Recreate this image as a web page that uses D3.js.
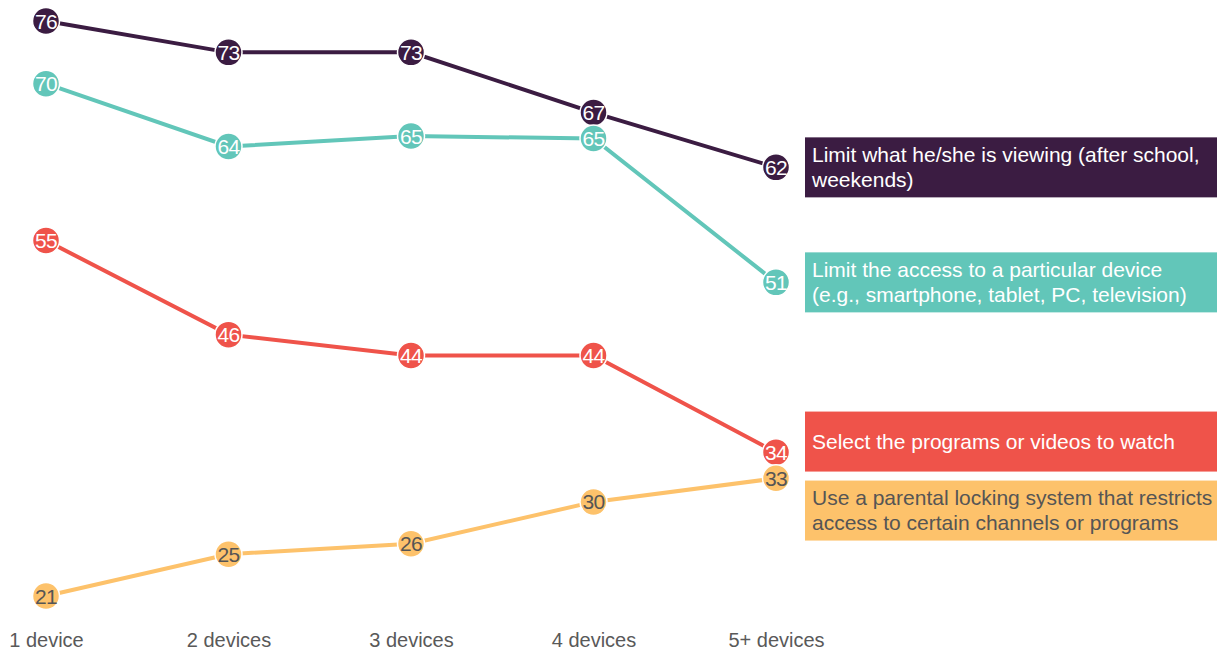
<!DOCTYPE html>
<html>
<head>
<meta charset="utf-8">
<script src="https://cdn.jsdelivr.net/npm/d3@7"></script>
<style>
  html, body { margin: 0; padding: 0; background: #ffffff; }
  svg { display: block; font-family: "Liberation Sans", Arial, sans-serif; }
</style>
</head>
<body>
<svg id="chart" width="1224" height="653"></svg>
<script>
// ---- data ----
const categories = ["1 device", "2 devices", "3 devices", "4 devices", "5+ devices"];
const limitViewing   = [76, 73, 73, 67, 62];
const limitAccess    = [70, 64, 65, 65, 51];
const selectPrograms = [55, 46, 44, 44, 34];
const parentalLock   = [21, 25, 26, 30, 33];
const seriesNames = [
  ["Limit what he/she is viewing (after school,", "weekends)"],
  ["Limit the access to a particular device", "(e.g., smartphone, tablet, PC, television)"],
  ["Select the programs or videos to watch"],
  ["Use a parental locking system that restricts", "access to certain channels or programs"]
];
const seriesValues = [limitViewing, limitAccess, selectPrograms, parentalLock];
const seriesColors = ["#3b1c42", "#62c6b9", "#ef534a", "#fdc26b"];
const labelColors  = ["#ffffff", "#ffffff", "#ffffff", "#555555"];

// ---- layout ----
const svg = d3.select("#chart");
const x = d3.scalePoint().domain(categories).range([46, 776]);
const y = d3.scaleLinear().domain([21, 76]).range([596, 21]);
const R = 13.5, minSep = 26;

// compute point positions, spreading overlapping labels at the same category
const series = seriesValues.map((vals, i) => ({
  i, vals,
  pts: vals.map((v, j) => ({ v, cx: x(categories[j]), cy: y(v) }))
}));
categories.forEach((c, j) => {
  const col = series.map(s => s.pts[j]).sort((a, b) => a.cy - b.cy);
  for (let k = 1; k < col.length; k++) {
    const need = minSep - (col[k].cy - col[k - 1].cy);
    if (need > 0) { col[k - 1].cy -= need / 2; col[k].cy += need / 2; }
  }
});

const line = d3.line().x(d => d.cx).y(d => d.cy);

// lines
svg.append("g").selectAll("path").data(series).join("path")
  .attr("d", s => line(s.pts))
  .attr("fill", "none")
  .attr("stroke", s => seriesColors[s.i])
  .attr("stroke-width", 4);

// markers with values
series.forEach(s => {
  const g = svg.append("g");
  const m = g.selectAll("g").data(s.pts).join("g")
    .attr("transform", d => `translate(${d.cx},${d.cy})`);
  m.append("circle").attr("r", R)
    .attr("fill", seriesColors[s.i])
    .attr("stroke", "#ffffff").attr("stroke-width", 1.5);
  m.append("text").text(d => d.v)
    .attr("text-anchor", "middle").attr("dy", "0.36em")
    .attr("font-size", 21).attr("letter-spacing", -0.6)
    .attr("fill", labelColors[s.i]);
});

// x axis labels
const xAxis = svg.append("g").attr("transform", "translate(0,640)")
  .call(d3.axisBottom(x).tickSize(0).tickPadding(0));
xAxis.select(".domain").remove();
xAxis.selectAll("text")
  .attr("dy", "0.35em").attr("y", 0)
  .attr("font-size", 20).attr("fill", "#595959")
  .attr("font-family", "Liberation Sans, Arial, sans-serif");

// legend boxes, placed at line ends with overlap resolution
const boxX = 805, boxW = 412, boxH = 60, gap = 9, lineH = 25;
const boxes = series.map(s => {
  const end = s.pts[s.pts.length - 1];
  return { i: s.i, top: end.cy - boxH / 2 };
}).sort((a, b) => a.top - b.top);
for (let k = 1; k < boxes.length; k++) {
  const need = boxes[k - 1].top + boxH + gap - boxes[k].top;
  if (need > 0) {
    boxes[k - 1].top -= need * 0.25;
    boxes[k].top += need * 0.75;
  }
}
const lg = svg.append("g").selectAll("g").data(boxes).join("g")
  .attr("transform", b => `translate(${boxX},${b.top})`);
lg.append("rect").attr("width", boxW).attr("height", boxH)
  .attr("fill", b => seriesColors[b.i]);
lg.each(function (b) {
  const lines = seriesNames[b.i];
  const g = d3.select(this);
  const start = boxH / 2 - (lines.length - 1) * lineH / 2;
  lines.forEach((t, k) => {
    g.append("text").text(t)
      .attr("x", 7).attr("y", start + k * lineH).attr("dy", "0.35em")
      .attr("font-size", 21)
      .attr("fill", labelColors[b.i]);
  });
});
</script>
</body>
</html>
